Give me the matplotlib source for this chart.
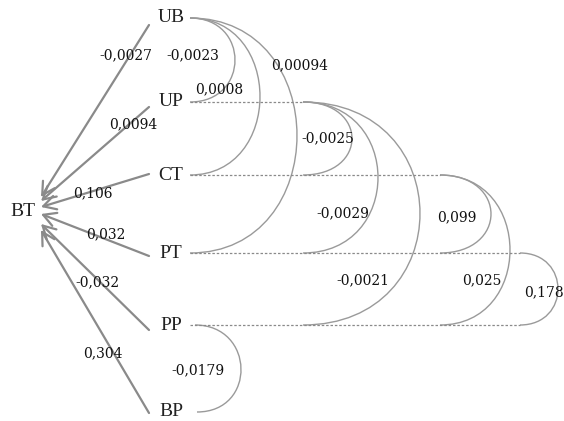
import matplotlib
matplotlib.use("Agg")
import matplotlib.pyplot as plt
from matplotlib.path import Path
from matplotlib.patches import PathPatch

# data
nodes = ["UB", "UP", "CT", "PT", "PP", "BP"]
target = "BT"
path_coef = ["-0,0027", "0,0094", "0,106", "0,032", "-0,032", "0,304"]
corr_pairs = [("UB", "UP"), ("UB", "CT"), ("UB", "PT"),
              ("UP", "CT"), ("UP", "PT"), ("UP", "PP"),
              ("CT", "PT"), ("CT", "PP"), ("PT", "PP"), ("PP", "BP")]
corr_vals = ["-0,0023", "0,0008", "0,00094",
             "-0,0025", "-0,0029", "-0,0021",
             "0,099", "0,025", "0,178", "-0,0179"]

# layout (pixel coords)
node_y = {"UB": 18, "UP": 102, "CT": 175, "PT": 253, "PP": 325, "BP": 412}
node_x = 171
bt_xy = (23, 212)
arrow_start_y = {"UB": 25, "UP": 107, "CT": 174, "PT": 256, "PP": 330, "BP": 413}
arrow_tip_y = {"UB": 197, "UP": 201, "CT": 207, "PT": 214, "PP": 224, "BP": 230}
coef_pos = [(126, 55), (133, 124), (93, 193), (106, 234), (97, 282), (103, 353)]
arc_x0 = {"UB": 190, "UP": 303, "CT": 440, "PT": 520, "PP": 195}
bulge = [45, 70, 107, 49, 75, 117, 51, 70, 38, 45]
corr_pos = [(193, 55), (219, 89), (300, 65), (328, 138), (343, 213),
            (363, 280), (457, 217), (482, 280), (544, 292), (198, 370)]

fig = plt.figure(figsize=(5.64, 4.21), dpi=100)
ax = fig.add_axes([0, 0, 1, 1])
ax.set_xlim(0, 564)
ax.set_ylim(421, 0)
ax.axis("off")

serif = "Liberation Serif"
num_font = "DejaVu Serif"
arc_col = "#9a9a9a"

# dashed guide lines
for n in nodes:
    ends = [arc_x0[a] for a, b in corr_pairs if b == n and a != "PP"]
    if n in arc_x0:
        ends.append(arc_x0[n])
    x_end = max(ends) if ends else None
    if x_end and x_end > 200:
        ax.plot([190, x_end], [node_y[n], node_y[n]], color="#8a8a8a",
                lw=0.9, ls=(0, (2, 1.5)))

# correlation arcs
for (a, b), bw, lab, pos in zip(corr_pairs, bulge, corr_vals, corr_pos):
    x0 = arc_x0[a]
    x1 = 197 if a == "PP" else x0
    y0, y1 = node_y[a], node_y[b]
    c = bw / 0.75
    verts = [(x0, y0), (x0 + c, y0), (x1 + c, y1), (x1, y1)]
    p = Path(verts, [Path.MOVETO, Path.CURVE4, Path.CURVE4, Path.CURVE4])
    ax.add_patch(PathPatch(p, fc="none", ec=arc_col, lw=1.0))
    ax.text(pos[0], pos[1], lab, ha="center", va="center",
            fontsize=10, family=num_font, color="#111111")

# arrows to BT
for n, coef, pos in zip(nodes, path_coef, coef_pos):
    ax.annotate("", xy=(41, arrow_tip_y[n]), xytext=(149, arrow_start_y[n]),
                arrowprops=dict(arrowstyle="->,head_length=0.9,head_width=0.5",
                                color="#8a8a8a", lw=1.6, shrinkA=0, shrinkB=0))
    ax.text(pos[0], pos[1], coef, ha="center", va="center",
            fontsize=10, family=num_font, color="#111111")

# node labels
for n in nodes:
    ax.text(node_x, node_y[n], n, ha="center", va="center",
            fontsize=14, family=serif, color="#222222")
ax.text(bt_xy[0], bt_xy[1], target, ha="center", va="center",
        fontsize=14, family=serif, color="#222222")

fig.savefig("out.png", dpi=100)
